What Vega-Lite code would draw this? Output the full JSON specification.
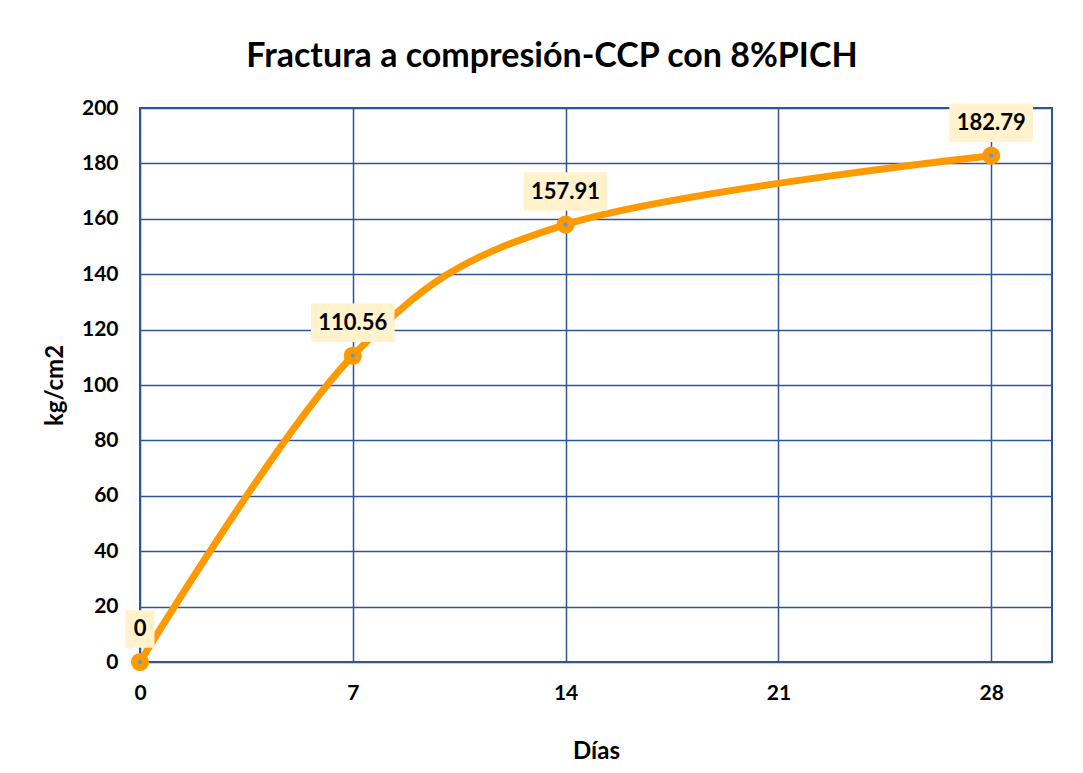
{
  "$schema": "https://vega.github.io/schema/vega-lite/v6.json",
  "width": 912,
  "height": 554,
  "autosize": "none",
  "padding": {"left": 140, "top": 108, "right": 31, "bottom": 111},
  "background": "white",
  "title": {
    "text": "Fractura a compresión-CCP con 8%PICH",
    "font": "Lato",
    "fontSize": 34,
    "fontWeight": "bold",
    "color": "#000000",
    "anchor": "middle",
    "dx": -44,
    "offset": 23
  },
  "config": {
    "view": {"stroke": "#2F5597", "strokeWidth": 2},
    "axis": {
      "labelFont": "Lato",
      "labelFontSize": 21,
      "labelFontWeight": "bold",
      "labelColor": "#000000",
      "labelFlush": false,
      "titleFont": "Lato",
      "titleFontSize": 24,
      "titleFontWeight": "bold",
      "titleColor": "#000000",
      "gridColor": "#2F5597",
      "gridWidth": 1.5,
      "gridOpacity": 1,
      "ticks": false,
      "domain": false
    }
  },
  "data": {
    "values": [
      {"dias": 0, "kg": 0},
      {"dias": 7, "kg": 110.56},
      {"dias": 14, "kg": 157.91},
      {"dias": 28, "kg": 182.79}
    ]
  },
  "encoding": {
    "x": {
      "field": "dias",
      "type": "quantitative",
      "scale": {"domain": [0, 30], "nice": false},
      "axis": {"values": [0, 7, 14, 21, 28], "title": "Días", "labelPadding": 20, "titlePadding": 36}
    },
    "y": {
      "field": "kg",
      "type": "quantitative",
      "scale": {"domain": [0, 200], "nice": false},
      "axis": {"values": [0, 20, 40, 60, 80, 100, 120, 140, 160, 180, 200], "title": "kg/cm2", "labelPadding": 22, "titlePadding": 14}
    }
  },
  "layer": [
    {
      "mark": {"type": "line", "interpolate": "cardinal", "color": "#FF9900", "strokeWidth": 7, "strokeCap": "round"}
    },
    {
      "mark": {"type": "point", "shape": "circle", "filled": true, "color": "#FF9900", "opacity": 1, "size": 330}
    },
    {
      "mark": {"type": "point", "shape": "circle", "filled": true, "color": "#5B9BD5", "opacity": 1, "size": 18}
    },
    {
      "mark": {"type": "point", "filled": true, "color": "#FFF2CC", "opacity": 1, "strokeWidth": 0, "yOffset": -33},
      "encoding": {
        "shape": {"condition": {"test": "datum.kg === 0", "value": "M-1,-1.3H1V1.3H-1Z"}, "value": "M-1,-0.46H1V0.46H-1Z"},
        "size": {"condition": {"test": "datum.kg === 0", "value": 841}, "value": 7000}
      }
    },
    {
      "mark": {"type": "text", "font": "Lato", "fontSize": 22, "fontWeight": "bold", "color": "#000000", "baseline": "middle", "align": "center", "yOffset": -33},
      "encoding": {"text": {"field": "kg", "type": "quantitative"}}
    }
  ]
}
